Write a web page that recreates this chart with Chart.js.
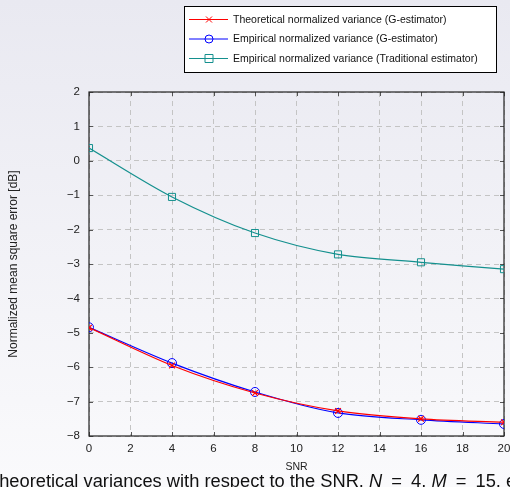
<!DOCTYPE html>
<html><head><meta charset="utf-8">
<script src="https://cdn.jsdelivr.net/npm/chart.js@4/dist/chart.umd.min.js"></script>
<style>
html,body{margin:0;padding:0;width:510px;height:487px;overflow:hidden;background:linear-gradient(#e9e9f1,#fafafc);}
#wrap{position:relative;width:510px;height:487px;}
canvas{position:absolute;left:0;top:0;}
#cap{position:absolute;left:-12px;top:470px;white-space:nowrap;font-family:"Liberation Sans",sans-serif;font-size:18.3px;line-height:1.15;color:#111;}
#cap .eq{margin:0 4px;}
</style></head><body>
<div id="wrap"><canvas id="c" width="510" height="487"></canvas>
<div id="cap">Theoretical variances with respect to the SNR. <i>N</i> <span class="eq">=</span> 4, <i>M</i> <span class="eq">=</span> 15, e</div></div>
<script>
const snr = [0, 4, 8, 12, 16, 20];
const theoG = [-4.85, -5.95, -6.75, -7.27, -7.50, -7.60];
const empG = [-4.84, -5.88, -6.72, -7.33, -7.53, -7.65];
const empTrad = [0.37, -1.05, -2.10, -2.72, -2.95, -3.15];
const xTicks = [0, 2, 4, 6, 8, 10, 12, 14, 16, 18, 20];
const yTicks = [-8, -7, -6, -5, -4, -3, -2, -1, 0, 1, 2];
const seriesNames = ['Theoretical normalized variance (G-estimator)', 'Empirical normalized variance (G-estimator)', 'Empirical normalized variance (Traditional estimator)'];
const colors = ['#ff0000', '#0000ff', '#14908e'];
const styles = ['crossRot', 'circle', 'rect'];

const toPts = ys => snr.map((x, i) => ({x, y: ys[i]}));

const frame = {
  id: 'frame',
  beforeDatasetsDraw(chart) {
    const {ctx, chartArea: a, scales: {x, y}} = chart;
    ctx.save();
    ctx.strokeStyle = '#555';
    ctx.lineWidth = 1;
    ctx.beginPath();
    xTicks.forEach(t => {
      const px = Math.round(x.getPixelForValue(t)) + 0.5;
      ctx.moveTo(px, a.bottom); ctx.lineTo(px, a.bottom - 4);
      ctx.moveTo(px, a.top); ctx.lineTo(px, a.top + 4);
    });
    yTicks.forEach(t => {
      const py = Math.round(y.getPixelForValue(t)) + 0.5;
      ctx.moveTo(a.left, py); ctx.lineTo(a.left + 4, py);
      ctx.moveTo(a.right, py); ctx.lineTo(a.right - 4, py);
    });
    ctx.stroke();
    ctx.strokeStyle = '#222';
    ctx.lineWidth = 1.2;
    ctx.strokeRect(a.left, a.top, a.right - a.left, a.bottom - a.top);
    ctx.restore();
  },
  afterDraw(chart) {
    const ctx = chart.ctx;
    ctx.save();
    const bx = 184.5, by = 6.5, bw = 312, bh = 66;
    ctx.fillStyle = '#fff';
    ctx.fillRect(bx, by, bw, bh);
    ctx.strokeStyle = '#000';
    ctx.lineWidth = 1;
    ctx.strokeRect(bx, by, bw, bh);
    ctx.font = '10.5px "Liberation Sans", sans-serif';
    ctx.textBaseline = 'middle';
    const rows = [19.5, 39, 58.5];
    seriesNames.forEach((name, i) => {
      const yy = rows[i];
      ctx.strokeStyle = colors[i];
      ctx.lineWidth = 1;
      ctx.beginPath(); ctx.moveTo(189, yy); ctx.lineTo(228, yy); ctx.stroke();
      const cx = 209;
      ctx.beginPath();
      if (styles[i] === 'crossRot') {
        ctx.moveTo(cx - 3, yy - 3); ctx.lineTo(cx + 3, yy + 3);
        ctx.moveTo(cx - 3, yy + 3); ctx.lineTo(cx + 3, yy - 3);
      } else if (styles[i] === 'circle') {
        ctx.arc(cx, yy, 4, 0, Math.PI * 2);
      } else {
        ctx.rect(cx - 4, yy - 4, 8, 8);
      }
      ctx.stroke();
      ctx.fillStyle = '#111';
      ctx.fillText(name, 233, yy + 0.5);
    });
    ctx.restore();
  }
};

new Chart(document.getElementById('c'), {
  type: 'line',
  data: {
    datasets: [
      {label: seriesNames[0], data: toPts(theoG), borderColor: colors[0], backgroundColor: 'transparent', borderWidth: 1.2, pointStyle: 'crossRot', pointRadius: 4, pointBorderWidth: 1.2, pointBorderColor: colors[0], tension: 0.3},
      {label: seriesNames[1], data: toPts(empG), borderColor: colors[1], backgroundColor: 'transparent', borderWidth: 1.2, pointStyle: 'circle', pointRadius: 4.5, pointBorderWidth: 1, pointBorderColor: colors[1], tension: 0.3},
      {label: seriesNames[2], data: toPts(empTrad), borderColor: colors[2], backgroundColor: 'transparent', borderWidth: 1.2, pointStyle: 'rect', pointRadius: 5, pointBorderWidth: 1, pointBorderColor: colors[2], tension: 0.3}
    ]
  },
  options: {
    responsive: false,
    animation: false,
    layout: {padding: {left: 0, top: 92, right: 6, bottom: 0}},
    plugins: {legend: {display: false}, tooltip: {enabled: false}},
    scales: {
      x: {
        type: 'linear', min: 0, max: 20,
        afterBuildTicks: s => { s.ticks = xTicks.map(v => ({value: v})); },
        afterFit: s => { s.height = 51; s.paddingLeft = 0; s.paddingRight = 0; },
        grid: {color: '#c4c4c4', drawTicks: false, lineWidth: 1},
        border: {display: false, dash: [5, 4]},
        ticks: {padding: 6, color: '#222', font: {family: '"Liberation Sans", sans-serif', size: 11.5}, maxRotation: 0, autoSkip: false},
        title: {display: true, text: 'SNR', color: '#222', font: {family: '"Liberation Sans", sans-serif', size: 10.5}, padding: {top: 0, bottom: 14}}
      },
      y: {
        type: 'linear', min: -8, max: 2,
        afterBuildTicks: s => { s.ticks = yTicks.map(v => ({value: v})); },
        afterFit: s => { s.width = 89; s.paddingTop = 0; s.paddingBottom = 0; },
        grid: {color: '#c4c4c4', drawTicks: false, lineWidth: 1},
        border: {display: false, dash: [5, 4]},
        ticks: {padding: 9, color: '#222', font: {family: '"Liberation Sans", sans-serif', size: 11.5}, callback: v => String(v).replace('-', '\u2212'), autoSkip: false},
        title: {display: true, text: 'Normalized mean square error [dB]', color: '#222', font: {family: '"Liberation Sans", sans-serif', size: 12}, padding: {top: 6, bottom: 0}}
      }
    }
  },
  plugins: [frame]
});
</script></body></html>
